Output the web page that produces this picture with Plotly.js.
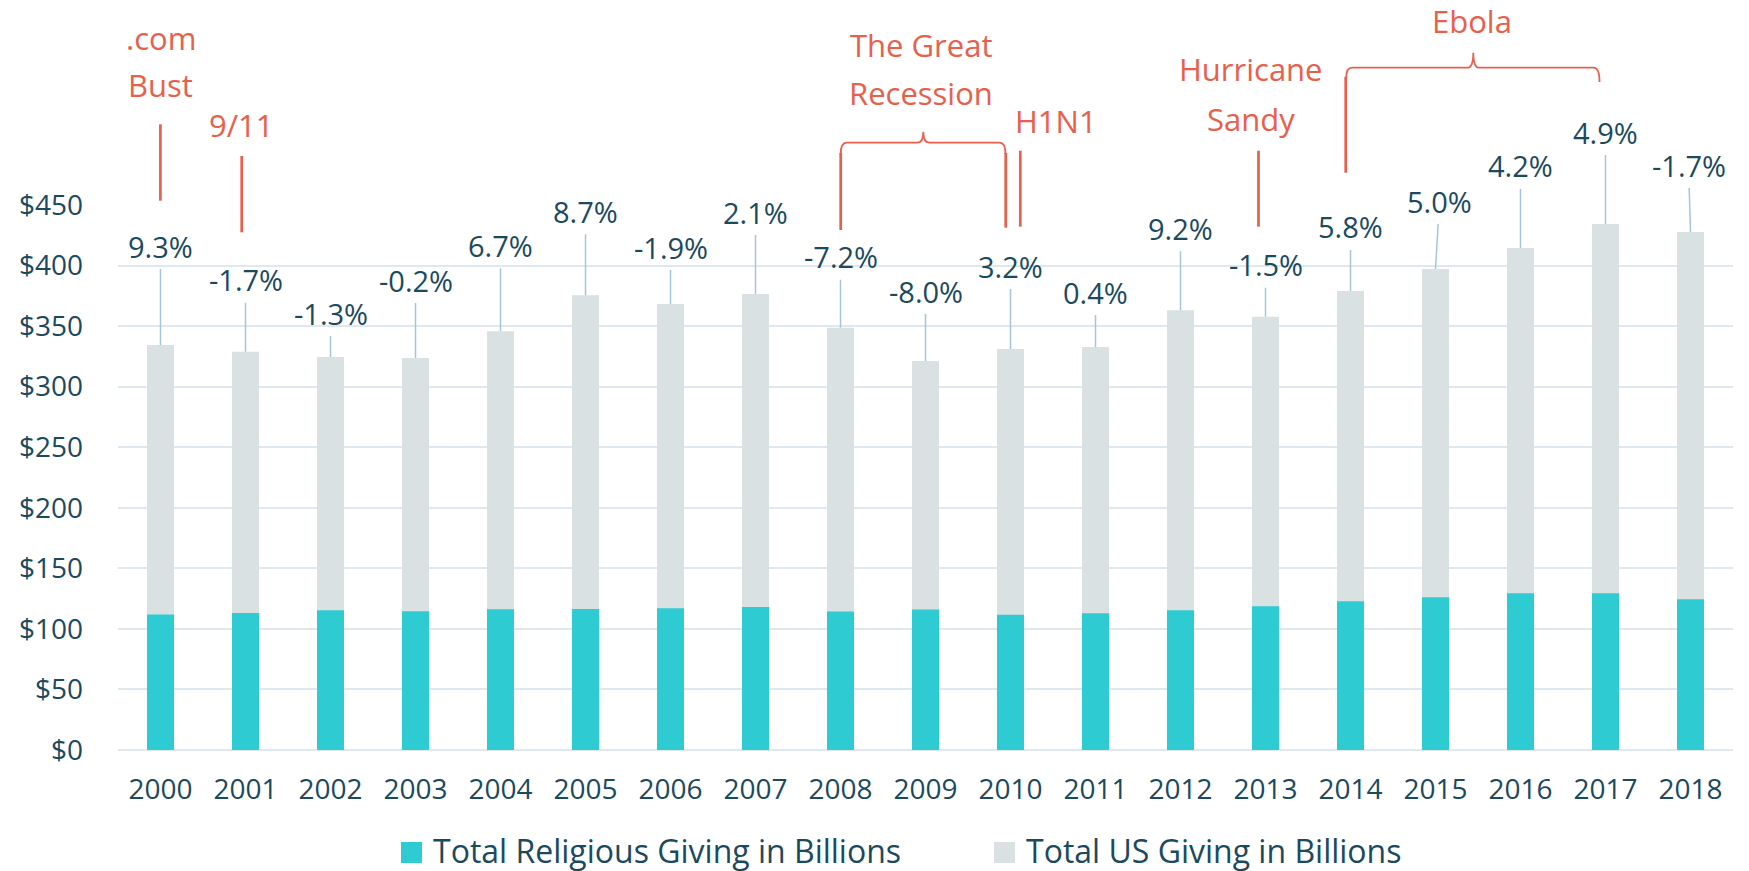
<!DOCTYPE html>
<html>
<head>
<meta charset="utf-8">
<script src="https://cdn.plot.ly/plotly-3.0.1.min.js"></script>
<style>html,body{margin:0;padding:0;background:#fff;}#chart{width:1749px;height:871px;}</style>
</head>
<body>
<div id="chart"></div>
<script>
// ---------------- data ----------------
const years = ['2000','2001','2002','2003','2004','2005','2006','2007','2008','2009','2010','2011','2012','2013','2014','2015','2016','2017','2018'];
const totalGiving = [334.4, 328.8, 324.4, 323.6, 345.7, 375.4, 368.2, 376.5, 348.7, 321.1, 331.0, 332.7, 363.0, 357.7, 379.0, 397.1, 414.5, 434.3, 427.7];
const religiousGiving = [111.8, 113.2, 115.4, 114.6, 116.2, 116.5, 117.0, 118.0, 114.4, 116.0, 111.6, 113.0, 115.4, 118.7, 122.8, 126.2, 129.5, 129.5, 124.5];
const pctChange = ['9.3%','-1.7%','-1.3%','-0.2%','6.7%','8.7%','-1.9%','2.1%','-7.2%','-8.0%','3.2%','0.4%','9.2%','-1.5%','5.8%','5.0%','4.2%','4.9%','-1.7%'];
const seriesNames = ['Total Religious Giving in Billions', 'Total US Giving in Billions'];
const eventLabels = [['.com','Bust'], ['9/11'], ['The Great','Recession'], ['H1N1'], ['Hurricane','Sandy'], ['Ebola']];

// ---------------- layout helpers (pixel geometry of the figure) ----------------
const W = 1749, H = 871;
const M = {l:118, r:16, t:205, b:121};
const PL = M.l, PR = W - M.r, PT = M.t, PB = H - M.b;
const px = x => (x - PL) / (PR - PL);
const py = y => (PB - y) / (PB - PT);
const P = (x, y) => px(x).toFixed(5) + ',' + py(y).toFixed(5);

const DARK = '#1b4a5e';
const RED = '#e8604c';
const FONT = 'Open Sans, sans-serif';

// data-label placement (pixel lift of each label above its bar, and small sideways shift)
const labelLift = [-99, -72, -44, -78, -86, -84, -57, -82, -71, -70, -83, -55, -82, -52, -64, -68, -82, -92, -67];
const labelShift = [0,0,0,0,0,0,0,0,0,0,0,0,0,0,0,4,0,0,-2];

const traces = [
  {type:'bar', x: years, y: totalGiving, name: seriesNames[1], marker:{color:'#d9e1e2'}, showlegend:false, hoverinfo:'x+y'},
  {type:'bar', x: years, y: religiousGiving, name: seriesNames[0], marker:{color:'#2ecbd2'}, showlegend:false, hoverinfo:'x+y'}
];

const annotations = [];
years.forEach((yr, i) => {
  annotations.push({
    x: i, y: totalGiving[i], xref:'x', yref:'y',
    text: pctChange[i], showarrow:true, arrowhead:0, arrowwidth:1.5, arrowcolor:'#a3c7d8',
    ax: labelShift[i], ay: labelLift[i], startstandoff: 2,
    font:{family:FONT, size:29, color:DARK}
  });
});

// event text lines: [event index, line index, center x px, center y px]
const eventTextPos = [
  [0,0,160.5,38.5],[0,1,160.5,85.5],
  [1,0,241,125.5],
  [2,0,921,45.5],[2,1,921,93],
  [3,0,1056,120.5],
  [4,0,1251,69],[4,1,1251,119],
  [5,0,1472,20.5]
];
eventTextPos.forEach(([e,l,x,y]) => {
  annotations.push({
    xref:'paper', yref:'paper', x: px(x), y: py(y), xanchor:'center', yanchor:'middle',
    text: eventLabels[e][l], showarrow:false, font:{family:FONT, size:31, color:RED}
  });
});

// legend (custom, so the swatches match the reference size)
const legendItems = [
  {sq:401, tx:431, color:'#2ecbd2', name:seriesNames[0]},
  {sq:994, tx:1024, color:'#d9e1e2', name:seriesNames[1]}
];
const shapes = [];
legendItems.forEach(it => {
  shapes.push({type:'rect', xref:'paper', yref:'paper', x0:px(it.sq), x1:px(it.sq+21), y0:py(863), y1:py(842), fillcolor:it.color, line:{width:0}});
  annotations.push({xref:'paper', yref:'paper', x:px(it.tx), y:py(850), xanchor:'left', yanchor:'middle', text:it.name, showarrow:false, font:{family:FONT, size:32, color:DARK}});
});

// event marker lines
const vlines = [
  [160.4,124.3,200.7],[241.7,156,232.3],[840.7,153,230],[1005.7,153,227.7],[1020.3,150.7,226.7],[1258.5,150.7,226.7],[1345.7,76.7,172.7]
];
vlines.forEach(([x,y0,y1]) => {
  shapes.push({type:'line', xref:'paper', yref:'paper', x0:px(x), x1:px(x), y0:py(y0), y1:py(y1), line:{color:RED, width:2.7}});
});
// braces
function brace(xl, xr, yh, xc, ytip, yl, yr){
  return 'M' + P(xl,yl) + ' Q' + P(xl,yh) + ' ' + P(xl+6,yh) +
         ' L' + P(xc-6,yh) + ' Q' + P(xc,yh) + ' ' + P(xc,ytip) +
         ' Q' + P(xc,yh) + ' ' + P(xc+6,yh) +
         ' L' + P(xr-6,yh) + ' Q' + P(xr,yh) + ' ' + P(xr,yr);
}
shapes.push({type:'path', xref:'paper', yref:'paper', path: brace(840.7, 1005.5, 142.7, 923.3, 131.7, 154, 154), line:{color:RED, width:1.8}});
shapes.push({type:'path', xref:'paper', yref:'paper', path: brace(1346.2, 1599.5, 67.7, 1473.3, 52.7, 78, 82), line:{color:RED, width:1.8}});

const layout = {
  width: W, height: H,
  margin: M,
  paper_bgcolor:'#ffffff', plot_bgcolor:'#ffffff',
  barmode:'overlay', bargap: 0.682,
  showlegend:false,
  font:{family:FONT, color:DARK},
  xaxis:{type:'category', range:[-0.5, years.length - 0.5], autorange:false, showgrid:false, zeroline:false, showline:false, ticks:'',
         tickfont:{family:FONT, size:28, color:DARK}, ticklabelstandoff: 20, fixedrange:true},
  yaxis:{range:[0,450], autorange:false, dtick:50, tick0:0, tickprefix:'$', showgrid:true, gridcolor:'#dfe8ee', gridwidth:2,
         zeroline:true, zerolinecolor:'#dfe8ee', zerolinewidth:2, showline:false, ticks:'',
         tickfont:{family:FONT, size:28, color:DARK}, ticklabelstandoff: 34, fixedrange:true},
  annotations: annotations,
  shapes: shapes
};

Plotly.newPlot('chart', traces, layout, {displayModeBar:false, staticPlot:true});
</script>
</body>
</html>
